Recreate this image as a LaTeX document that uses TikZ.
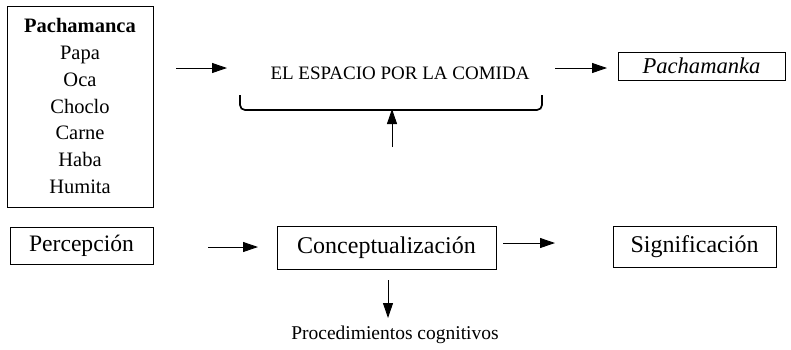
\documentclass[tikz,border=0pt]{standalone}
\usepackage{fontspec}
\setmainfont{Liberation Serif}
\usetikzlibrary{arrows.meta}
\begin{document}
\begin{tikzpicture}[x=1pt,y=-1pt,
  box/.style={draw, line width=1pt, inner sep=0pt, align=center},
  arr/.style={line width=0.9pt, -{Triangle[length=15pt,width=10pt]}},
  plain/.style={inner sep=0pt, align=center}]
\useasboundingbox (0,0) rectangle (791,349);
% top row
\node[box, minimum width=146pt, minimum height=201pt] (ing) at (80,106.5) {};
\node[plain, font=\fontsize{20.5}{26.7}\selectfont] (list) at (80,106) {\textbf{Pachamanca}\\Papa\\Oca\\Choclo\\Carne\\Haba\\Humita};
\node[plain, font=\fontsize{19}{22}\selectfont] (esp) at (400,73.5) {EL ESPACIO POR LA COMIDA};
\node[box, minimum width=167pt, minimum height=28pt, font=\fontsize{22.6}{26}\selectfont\itshape] (pk) at (701.5,66) {Pachamanka};
% brace
\coordinate (bl) at (240,95);
\coordinate (br) at (542,95);
\coordinate (bm) at (392,110);
\draw[line width=1.7pt, rounded corners=5pt] (bl) -- (240,110) -- (542,110) -- (br);
\coordinate (upstart) at (392,147);
\draw[arr] (upstart) -- ([yshift=1pt]bm);
% top arrows
\coordinate (a1s) at (176,68);
\coordinate (a1e) at (227,68);
\draw[arr] (a1s) -- (a1e);
\coordinate (a2s) at (555,68);
\coordinate (a2e) at (607,68);
\draw[arr] (a2s) -- (a2e);
% bottom row
\node[box, minimum width=143pt, minimum height=37pt, font=\fontsize{23.6}{28}\selectfont] (perc) at (81.5,245.5) {Percepción};
\node[box, minimum width=219pt, minimum height=43pt, font=\fontsize{24}{28}\selectfont] (conc) at (386.5,247.5) {Conceptualización};
\node[box, minimum width=163pt, minimum height=41pt, font=\fontsize{24}{28}\selectfont] (sig) at (694.5,246.5) {Significación};
\node[plain, font=\fontsize{19.5}{22}\selectfont] (proc) at (395,335) {Procedimientos cognitivos};
\coordinate (a3s) at (208,247);
\coordinate (a3e) at (258,247);
\draw[arr] (a3s) -- (a3e);
\coordinate (a4s) at (503,243);
\coordinate (a4e) at (555,243);
\draw[arr] (a4s) -- (a4e);
\coordinate (a5s) at (388,280);
\coordinate (a5e) at (388,318);
\draw[arr] (a5s) -- (a5e);
\end{tikzpicture}
\end{document}
